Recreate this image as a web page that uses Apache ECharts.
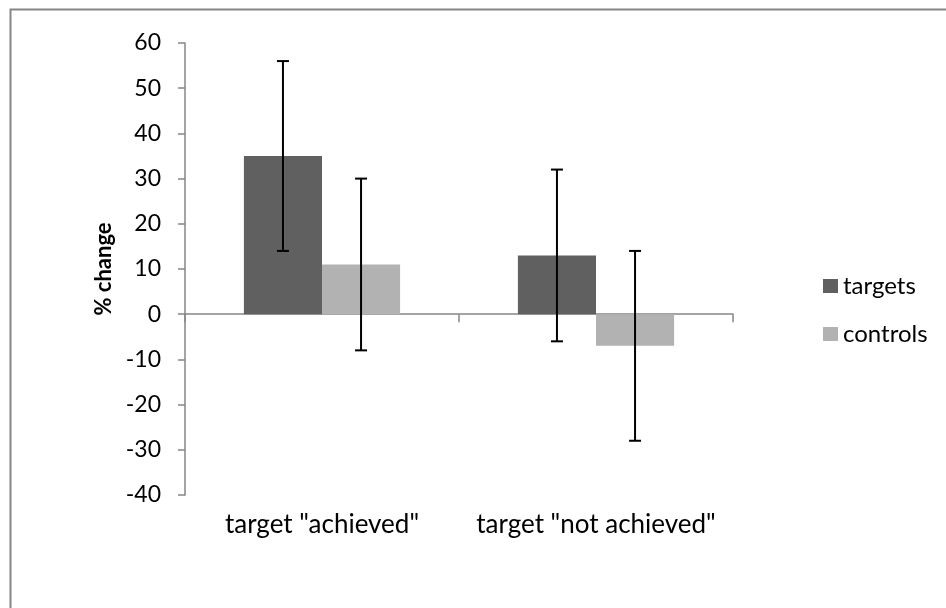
<!DOCTYPE html>
<html><head><meta charset="utf-8">
<script src="https://cdn.jsdelivr.net/npm/echarts@6/dist/echarts.min.js"></script>
<style>html,body{margin:0;padding:0;background:#fff}#c{width:946px;height:608px}</style>
</head><body><div id="c"></div>
<script>
const categories = ['target "achieved"', 'target "not achieved"'];
const targets = [35, 13];
const controls = [11, -7];
const targetsErr = [21, 19];
const controlsErr = [19, 21];
const yMin = -40, yMax = 60, yInterval = 10;

const FONT = 'Lato';
const AX = '#868686';
const CAT_GAP = 0.43;

function errData(vals, errs) {
  return vals.map((v, i) => [i, v - errs[i], v + errs[i]]);
}
function errRender(sign) {
  return function (params, api) {
    const ci = api.value(0);
    const lo = api.coord([ci, api.value(1)]);
    const hi = api.coord([ci, api.value(2)]);
    const band = api.size([1, 0])[0];
    const bw = band * (1 - CAT_GAP) / 2;
    const x = lo[0] + sign * bw / 2;
    const cap = 6;
    const st = { stroke: '#000', lineWidth: 2 };
    return { type: 'group', children: [
      { type: 'line', shape: { x1: x, y1: hi[1], x2: x, y2: lo[1] }, style: st },
      { type: 'line', shape: { x1: x - cap, y1: hi[1], x2: x + cap, y2: hi[1] }, style: st },
      { type: 'line', shape: { x1: x - cap, y1: lo[1], x2: x + cap, y2: lo[1] }, style: st }
    ]};
  };
}

const chart = echarts.init(document.getElementById('c'), null, { renderer: 'canvas' });
chart.setOption({
  animation: false,
  backgroundColor: '#fff',
  textStyle: { fontFamily: FONT },
  graphic: [{
    type: 'rect', left: 8, top: 7, shape: { width: 960, height: 620 },
    style: { fill: 'none', stroke: AX, lineWidth: 2 }, silent: true, z: -1
  }],
  grid: { left: 185, right: 213, top: 43, bottom: 113, containLabel: false },
  legend: {
    orient: 'vertical', left: 823, top: 274, padding: 0,
    data: ['targets', 'controls'],
    icon: 'rect', itemWidth: 15, itemHeight: 14, itemGap: 24,
    textStyle: { fontFamily: FONT, fontSize: 24, color: '#000', lineHeight: 24 }
  },
  xAxis: [{
    type: 'category', data: categories, position: 'bottom',
    axisLine: { onZero: true, lineStyle: { color: AX, width: 1.5 } },
    axisTick: { show: true, inside: false, length: 8, lineStyle: { color: AX, width: 1.5 } },
    axisLabel: { show: false }
  }, {
    type: 'category', data: categories, position: 'bottom',
    axisLine: { show: false, onZero: false }, axisTick: { show: false },
    axisLabel: { show: true, interval: 0, hideOverlap: false, margin: 17, color: '#000', fontFamily: FONT, fontSize: 26 }
  }],
  yAxis: {
    type: 'value', min: yMin, max: yMax, interval: yInterval,
    name: '% change', nameLocation: 'middle', nameGap: 70, nameRotate: 90,
    nameTextStyle: { fontFamily: FONT, fontSize: 22, fontWeight: 'bold', color: '#000' },
    axisLine: { show: true, lineStyle: { color: AX, width: 1.5 } },
    axisTick: { show: true, length: 7, lineStyle: { color: AX, width: 1.5 } },
    axisLabel: { margin: 24, color: '#000', fontFamily: FONT, fontSize: 23 },
    splitLine: { show: false }
  },
  series: [
    { name: 'targets', type: 'bar', data: targets, barGap: '0%', barCategoryGap: '43%',
      itemStyle: { color: '#606060' } },
    { name: 'controls', type: 'bar', data: controls, barGap: '0%', barCategoryGap: '43%',
      itemStyle: { color: '#b2b2b2' } },
    { name: 'targetsErr', type: 'custom', data: errData(targets, targetsErr),
      renderItem: errRender(-1), encode: { x: 0, y: [1, 2] }, z: 5 },
    { name: 'controlsErr', type: 'custom', data: errData(controls, controlsErr),
      renderItem: errRender(1), encode: { x: 0, y: [1, 2] }, z: 5 }
  ]
});
</script></body></html>
